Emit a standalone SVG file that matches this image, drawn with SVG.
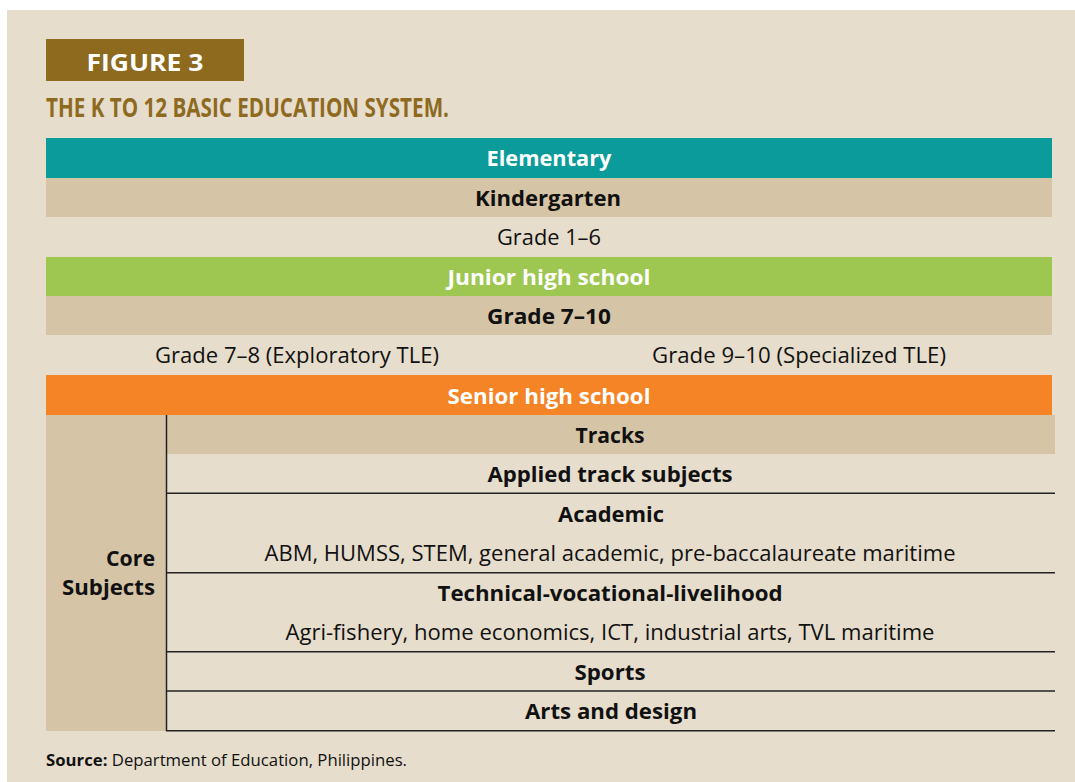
<svg xmlns="http://www.w3.org/2000/svg" width="1075" height="782" viewBox="0 0 1075 782">
<style>
.t{font-family:"Open Sans","Noto Sans",sans-serif;font-size:21px;fill:#111;}
.b{font-weight:bold;}
.w{fill:#fff;}
.c{text-anchor:middle;}
.ln{stroke:#222;stroke-width:1.5;fill:none;}
</style>
<rect x="0" y="0" width="1075" height="782" fill="#fff"/>
<rect x="7" y="10" width="1068" height="772" fill="#E6DDCC"/>
<g id="header">
<rect x="46" y="39" width="198" height="42" fill="#8E6A1F"/>
<text x="145" y="71" class="t b w c" style="font-size:24px" textLength="117" lengthAdjust="spacingAndGlyphs">FIGURE 3</text>
<text x="46" y="117" class="t b" style="font-size:27px;fill:#8E6A1F" textLength="403" lengthAdjust="spacingAndGlyphs">THE K TO 12 BASIC EDUCATION SYSTEM.</text>
</g>
<g id="elementary">
<rect x="46" y="138" width="1006" height="40" fill="#0A9B9A"/>
<text x="549" y="166" class="t b w c" textLength="125" lengthAdjust="spacingAndGlyphs">Elementary</text>
</g>
<g id="kindergarten">
<rect x="46" y="178" width="1006" height="39" fill="#D5C4A5"/>
<text x="548" y="206" class="t b c" textLength="146" lengthAdjust="spacingAndGlyphs">Kindergarten</text>
</g>
<g id="grade1-6">
<text x="549" y="245" class="t c" textLength="104" lengthAdjust="spacingAndGlyphs">Grade 1–6</text>
</g>
<g id="junior">
<rect x="46" y="257" width="1006" height="39" fill="#9DC750"/>
<text x="549" y="285" class="t b w c" textLength="203" lengthAdjust="spacingAndGlyphs">Junior high school</text>
</g>
<g id="grade7-10">
<rect x="46" y="296" width="1006" height="39" fill="#D5C4A5"/>
<text x="549" y="324" class="t b c" textLength="124" lengthAdjust="spacingAndGlyphs">Grade 7–10</text>
</g>
<g id="grade7-8">
<text x="297" y="363" class="t c" textLength="284" lengthAdjust="spacingAndGlyphs">Grade 7–8 (Exploratory TLE)</text>
</g>
<g id="grade9-10">
<text x="799" y="363" class="t c" textLength="294" lengthAdjust="spacingAndGlyphs">Grade 9–10 (Specialized TLE)</text>
</g>
<g id="senior">
<rect x="46" y="375" width="1006" height="40" fill="#F58426"/>
<text x="549" y="404" class="t b w c" textLength="203" lengthAdjust="spacingAndGlyphs">Senior high school</text>
</g>
<g id="core">
<rect x="46" y="415" width="121" height="316" fill="#D5C4A5"/>
<text x="155" y="566" class="t b" style="text-anchor:end" textLength="49" lengthAdjust="spacingAndGlyphs">Core</text>
<text x="155" y="595" class="t b" style="text-anchor:end" textLength="93" lengthAdjust="spacingAndGlyphs">Subjects</text>
</g>
<g id="tracks">
<rect x="167" y="415" width="888" height="39" fill="#D5C4A5"/>
<text x="610" y="443" class="t b c" textLength="69" lengthAdjust="spacingAndGlyphs">Tracks</text>
</g>
<g id="applied">
<text x="610" y="482" class="t b c" textLength="245" lengthAdjust="spacingAndGlyphs">Applied track subjects</text>
</g>
<g id="academic">
<text x="611" y="522" class="t b c" textLength="106" lengthAdjust="spacingAndGlyphs">Academic</text>
<text x="610" y="561" class="t c" textLength="691" lengthAdjust="spacingAndGlyphs">ABM, HUMSS, STEM, general academic, pre-baccalaureate maritime</text>
</g>
<g id="tvl">
<text x="610" y="601" class="t b c" textLength="345" lengthAdjust="spacingAndGlyphs">Technical-vocational-livelihood</text>
<text x="610" y="640" class="t c" textLength="649" lengthAdjust="spacingAndGlyphs">Agri-fishery, home economics, ICT, industrial arts, TVL maritime</text>
</g>
<g id="sports">
<text x="610" y="680" class="t b c" textLength="71" lengthAdjust="spacingAndGlyphs">Sports</text>
</g>
<g id="arts">
<text x="611" y="719" class="t b c" textLength="172" lengthAdjust="spacingAndGlyphs">Arts and design</text>
</g>
<g id="connectors">
<line class="ln" x1="166.5" y1="415" x2="166.5" y2="731"/>
<line class="ln" x1="166" y1="493.3" x2="1055" y2="493.3"/>
<line class="ln" x1="166" y1="572.7" x2="1055" y2="572.7"/>
<line class="ln" x1="166" y1="651.7" x2="1055" y2="651.7"/>
<line class="ln" x1="166" y1="691" x2="1055" y2="691"/>
<line class="ln" x1="166" y1="730.7" x2="1055" y2="730.7"/>
</g>
<g id="source">
<text x="46" y="766" class="t" style="font-size:16px" textLength="361" lengthAdjust="spacingAndGlyphs"><tspan class="b">Source:</tspan> Department of Education, Philippines.</text>
</g>
</svg>
